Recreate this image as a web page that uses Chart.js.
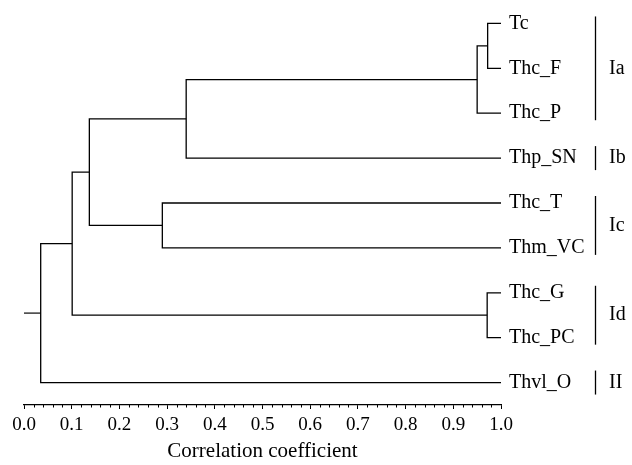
<!DOCTYPE html>
<html>
<head>
<meta charset="utf-8">
<script src="https://cdn.jsdelivr.net/npm/chart.js@4/dist/chart.umd.min.js"></script>
<style>
  body { margin: 0; background: #fff; }
  #wrap { width: 632px; height: 465px; }
</style>
</head>
<body>
<div id="wrap"><canvas id="dendro" width="632" height="465"></canvas></div>
<script>
// leaves, top to bottom
const leafNames = ['Tc', 'Thc_F', 'Thc_P', 'Thp_SN', 'Thc_T', 'Thm_VC', 'Thc_G', 'Thc_PC', 'Thvl_O'];

// merges: node ids 0..8 are leaves, 9.. are merges in this order
const mergeA = [0, 9, 10, 4, 11, 6, 13, 15];
const mergeB = [1, 2, 3, 5, 12, 7, 14, 8];
const mergeHeight = [0.972, 0.95, 0.34, 0.29, 0.137, 0.971, 0.101, 0.035];

// groups on the right
const groupLabels = ['Ia', 'Ib', 'Ic', 'Id', 'II'];
const groupFirst = [0, 3, 4, 6, 8];
const groupLast = [2, 3, 5, 7, 8];

const xTicks = [0, 0.1, 0.2, 0.3, 0.4, 0.5, 0.6, 0.7, 0.8, 0.9, 1.0];

const serif = 'Liberation Serif';

// position of every node
let nodeX = leafNames.map(() => 1.0);
let nodeY = leafNames.map((n, i) => i);
mergeA.forEach((a, i) => {
  let b = mergeB[i];
  nodeX.push(mergeHeight[i]);
  nodeY.push((nodeY[a] + nodeY[b]) / 2);
});

let datasets = mergeA.map((a, i) => {
  let b = mergeB[i];
  let h = mergeHeight[i];
  return {
    data: [
      { x: nodeX[a], y: nodeY[a] },
      { x: h, y: nodeY[a] },
      { x: h, y: nodeY[b] },
      { x: nodeX[b], y: nodeY[b] }
    ],
    showLine: true,
    borderColor: '#000',
    borderWidth: 1.3,
    pointRadius: 0,
    clip: false
  };
});

// root stub
let root = nodeX.length - 1;
datasets.push({
  data: [{ x: 0, y: nodeY[root] }, { x: nodeX[root], y: nodeY[root] }],
  showLine: true,
  borderColor: '#444',
  borderWidth: 1.6,
  pointRadius: 0,
  clip: false
});

const extras = {
  id: 'extras',
  afterDraw(chart) {
    let ctx = chart.ctx;
    let xs = chart.scales.x;
    let ys = chart.scales.y;
    ctx.save();
    // minor ticks
    ctx.strokeStyle = '#000';
    ctx.lineWidth = 1;
    for (let i = 1; i < 50; i++) {
      if (i % 5 === 0) continue;
      let px = Math.round(xs.getPixelForValue(i * 0.02)) + 0.5;
      ctx.beginPath();
      ctx.moveTo(px, xs.top);
      ctx.lineTo(px, xs.top + 2.5);
      ctx.stroke();
    }
    // group brackets
    ctx.font = '20px "' + serif + '"';
    ctx.fillStyle = '#000';
    ctx.textBaseline = 'middle';
    ctx.lineWidth = 1.3;
    groupLabels.forEach((g, i) => {
      let pad = groupFirst[i] === groupLast[i] ? 12 : 7;
      let y1 = ys.getPixelForValue(groupFirst[i]) - pad;
      let y2 = ys.getPixelForValue(groupLast[i]) + pad;
      ctx.beginPath();
      ctx.moveTo(595.5, y1);
      ctx.lineTo(595.5, y2);
      ctx.stroke();
      ctx.fillText(g, 609, (y1 + y2) / 2);
    });
    ctx.restore();
  }
};

new Chart(document.getElementById('dendro'), {
  type: 'scatter',
  data: { datasets: datasets },
  options: {
    responsive: false,
    animation: false,
    layout: { padding: { left: 24, top: 1, right: 0, bottom: 0 } },
    plugins: { legend: { display: false }, tooltip: { enabled: false } },
    scales: {
      x: {
        type: 'linear',
        min: 0,
        max: 1,
        afterBuildTicks: (s) => { s.ticks = xTicks.map(v => ({ value: v })); },
        afterFit: (s) => { s.height = 60; },
        border: { display: true, color: '#000', width: 1.2 },
        grid: { display: true, drawOnChartArea: false, tickLength: 4, color: '#000' },
        ticks: {
          color: '#000',
          padding: 5,
          maxRotation: 0,
          font: { family: serif, size: 19 },
          callback: (v) => Number(v).toFixed(1)
        },
        title: {
          display: true,
          text: 'Correlation coefficient',
          color: '#000',
          font: { family: serif, size: 21 },
          padding: { top: 2, bottom: 1 }
        }
      },
      y: {
        type: 'linear',
        position: 'right',
        reverse: true,
        min: -0.5,
        max: 8.5,
        afterBuildTicks: (s) => { s.ticks = leafNames.map((n, i) => ({ value: i })); },
        afterFit: (s) => { s.width = 131; s.paddingTop = 0; s.paddingBottom = 0; },
        border: { display: false },
        grid: { display: false, drawTicks: false },
        ticks: {
          color: '#000',
          padding: 8,
          font: { family: serif, size: 20 },
          callback: (v) => leafNames[v]
        }
      }
    }
  },
  plugins: [extras]
});
</script>
</body>
</html>
